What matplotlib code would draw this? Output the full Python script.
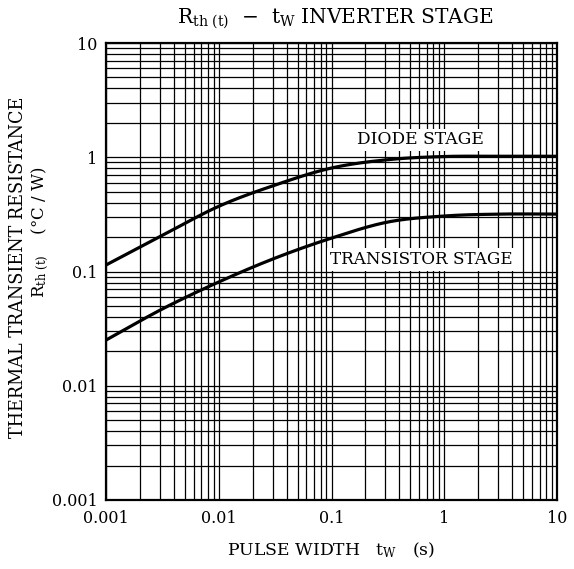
import matplotlib
matplotlib.use("Agg")
import matplotlib.pyplot as plt
import numpy as np

# values (half-decade steps)
pulse_tw = [0.001, 0.00316, 0.01, 0.0316, 0.1, 0.316, 1, 3.16, 10]
diode_rth = [0.114, 0.207, 0.372, 0.571, 0.805, 0.952, 1.015, 1.02, 1.02]
trans_rth = [0.0251, 0.047, 0.081, 0.131, 0.196, 0.271, 0.306, 0.318, 0.318]

tick_vals = [0.001, 0.01, 0.1, 1, 10]
tick_labels = ["0.001", "0.01", "0.1", "1", "10"]

plt.rcParams['font.family'] = ['DejaVu Serif']
plt.rcParams['mathtext.fontset'] = 'dejavuserif'


def smooth(xs, ys, n=300):
    # Catmull-Rom through the read points, in log space
    lx = np.log10(xs)
    ly = np.log10(ys)
    gx = np.linspace(lx[0], lx[-1], n)
    out = []
    for g in gx:
        i = np.searchsorted(lx, g) - 1
        i = min(max(i, 0), len(lx) - 2)
        p0 = ly[i - 1] if i > 0 else 2 * ly[0] - ly[1]
        p1 = ly[i]
        p2 = ly[i + 1]
        p3 = ly[i + 2] if i + 2 < len(ly) else ly[-1]
        t = (g - lx[i]) / (lx[i + 1] - lx[i])
        v = 0.5 * ((2 * p1) + (-p0 + p2) * t + (2 * p0 - 5 * p1 + 4 * p2 - p3) * t ** 2
                   + (-p0 + 3 * p1 - 3 * p2 + p3) * t ** 3)
        out.append(v)
    return 10 ** gx, 10 ** np.array(out)


def graph():
    fig = plt.figure(figsize=(5.74, 5.69), dpi=100)
    ax = fig.add_axes([106 / 574, 1 - 500 / 569, 451 / 574, 457 / 569])
    ax.set_xscale('log')
    ax.set_yscale('log')
    ax.set_xlim(0.001, 10)
    ax.set_ylim(0.001, 10)

    ax.grid(True, which='both', color='black', linewidth=0.9)
    ax.set_axisbelow(True)

    x, y = smooth(pulse_tw, diode_rth)
    ax.plot(x, y, color='black', linewidth=2.3)
    x, y = smooth(pulse_tw, trans_rth)
    ax.plot(x, y, color='black', linewidth=2.3)

    ax.text(0.62, 1.42, "DIODE STAGE", ha='center', va='center', fontsize=12.3,
            bbox=dict(facecolor='white', edgecolor='none', pad=2))
    ax.text(0.62, 0.128, "TRANSISTOR STAGE", ha='center', va='center', fontsize=12.1,
            bbox=dict(facecolor='white', edgecolor='none', pad=2))

    ax.set_xticks(tick_vals)
    ax.set_xticklabels(tick_labels)
    ax.set_yticks(tick_vals)
    ax.set_yticklabels(tick_labels)
    ax.tick_params(which='both', length=0)
    ax.tick_params(axis='x', pad=7, labelsize=11.5)
    ax.tick_params(axis='y', pad=6, labelsize=11.5)
    for s in ax.spines.values():
        s.set_linewidth(1.6)

    fig.text(335 / 574, 1 - 19 / 569,
             r"$\mathregular{R_{th\ (t)}}$  −  $\mathregular{t_W}$ INVERTER STAGE",
             ha='center', va='center', fontsize=14.5)
    fig.text(331 / 574, 1 - 550 / 569,
             r"PULSE WIDTH   $\mathregular{t_W}$   (s)",
             ha='center', va='center', fontsize=12.4)
    fig.text(18 / 574, 1 - 267 / 569, "THERMAL TRANSIENT RESISTANCE",
             rotation=90, ha='center', va='center', fontsize=12.7)
    fig.text(40 / 574, 1 - 232 / 569,
             r"$\mathregular{R_{th\ (t)}}$    (°C / W)",
             rotation=90, ha='center', va='center', fontsize=12)

    fig.savefig('out.png', dpi=100)


if __name__ == '__main__':
    graph()
